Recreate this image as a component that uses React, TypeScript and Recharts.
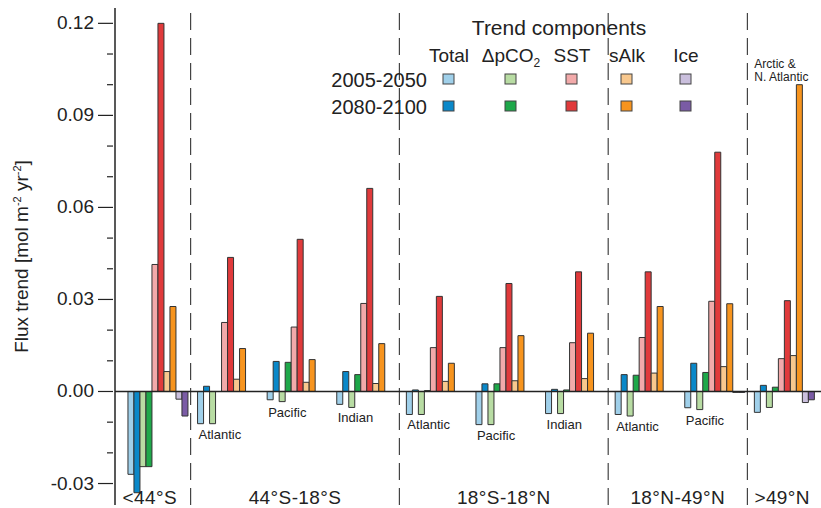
import { BarChart, Bar, XAxis, YAxis, ReferenceLine, LabelList } from 'recharts';

// regions (one category per basin) and their labels
const regions = ['S44', 'Atl1', 'Pac1', 'Ind1', 'Atl2', 'Pac2', 'Ind2', 'Atl3', 'Pac3', 'N49'];
const basinLabels = ['', 'Atlantic', 'Pacific', 'Indian', 'Atlantic', 'Pacific', 'Indian', 'Atlantic', 'Pacific', ''];
const notes = ['', '', '', '', '', '', '', '', '', 'Arctic &\nN. Atlantic'];

// latitude bands: label, first and last region index
const bandLabels = ['<44°S', '44°S-18°S', '18°S-18°N', '18°N-49°N', '>49°N'];
const bandFirst = [0, 1, 4, 7, 9];
const bandLast = [0, 3, 6, 8, 9];

const yTicks = [-0.03, -0.02, -0.01, 0, 0.01, 0.02, 0.03, 0.04, 0.05, 0.06, 0.07, 0.08, 0.09, 0.1, 0.11, 0.12];

// flux trends, mol m-2 yr-2
const total2005 = [-0.027, -0.0105, -0.0027, -0.0042, -0.0075, -0.0108, -0.0072, -0.0075, -0.0053, -0.0068];
const total2080 = [-0.033, 0.0017, 0.0098, 0.0065, 0.0005, 0.0025, 0.0007, 0.0055, 0.0092, 0.002];
const pco2_2005 = [-0.0245, -0.0105, -0.0033, -0.0052, -0.0075, -0.0108, -0.0072, -0.008, -0.0059, -0.0052];
const pco2_2080 = [-0.0245, 0, 0.0095, 0.0055, 0.0003, 0.0025, 0.0005, 0.0053, 0.0062, 0.0014];
const sst2005 = [0.0414, 0.0225, 0.021, 0.0287, 0.0143, 0.0143, 0.0159, 0.0176, 0.0294, 0.0107];
const sst2080 = [0.12, 0.0437, 0.0496, 0.0662, 0.031, 0.0352, 0.039, 0.039, 0.078, 0.0296];
const salk2005 = [0.0065, 0.004, 0.003, 0.0026, 0.0033, 0.0035, 0.0042, 0.006, 0.0081, 0.0117];
const salk2080 = [0.0277, 0.014, 0.0104, 0.0156, 0.0092, 0.0182, 0.019, 0.0277, 0.0286, 0.1];
const ice2005 = [-0.0025, 0, 0, 0, 0, 0, 0, 0, -0.0003, -0.0036];
const ice2080 = [-0.008, 0, 0, 0, 0, 0, 0, 0, -0.0003, -0.0027];

const components = ['Total', 'ΔpCO2', 'SST', 'sAlk', 'Ice'];
const periods = ['2005-2050', '2080-2100'];
const lightColors = ['#a0d0ea', '#b8dca3', '#f2aaaa', '#f8c88e', '#cabfdd'];
const darkColors = ['#0a88c9', '#1ea84a', '#e03a3b', '#f7941e', '#7a5ba5'];
const keys = [
  ['total2005', 'total2080'],
  ['pco2_2005', 'pco2_2080'],
  ['sst2005', 'sst2080'],
  ['salk2005', 'salk2080'],
  ['ice2005', 'ice2080'],
];

const data = regions.map((r, i) => ({
  name: r,
  basin: basinLabels[i],
  note: notes[i],
  total2005: total2005[i],
  total2080: total2080[i],
  pco2_2005: pco2_2005[i],
  pco2_2080: pco2_2080[i],
  sst2005: sst2005[i],
  sst2080: sst2080[i],
  salk2005: salk2005[i],
  salk2080: salk2080[i],
  ice2005: ice2005[i],
  ice2080: ice2080[i],
}));

const FONT = '"Liberation Sans", Arial, sans-serif';
const TEXT = '#222';
const W = 821;
const H = 508;
const Y_AXIS_W = 115;
const PAD_L = 6;
const PAD_R = 4;
const BAND = (W - Y_AXIS_W - PAD_L - PAD_R) / regions.length;

const YTick = ({ x, y, payload }: any) => {
  const v = payload.value;
  const major = Math.round(v * 100) % 3 === 0;
  return (
    <g>
      <line x1={x - (major ? 15 : 6)} x2={x} y1={y} y2={y} stroke="#222" strokeWidth={1.2} />
      {major && (
        <text x={x - 19} y={y} dy={6} textAnchor="end" fontSize={19} fill={TEXT} fontFamily={FONT}>
          {v.toFixed(2)}
        </text>
      )}
    </g>
  );
};

// latitude band name, centred under the band's regions
const BandTick = ({ x, payload }: any) => {
  const idx = regions.indexOf(payload.value);
  const b = bandFirst.indexOf(idx);
  if (b < 0) return null;
  const cx = x + ((bandLast[b] - bandFirst[b]) / 2) * BAND - (b === 0 ? 6 : 0);
  return (
    <text x={cx} y={H - 4} textAnchor="middle" fontSize={19} fill={TEXT} fontFamily={FONT} letterSpacing={0.4}>
      {bandLabels[b]}
    </text>
  );
};

const YLabel = ({ viewBox }: any) => {
  const cx = viewBox.x + 22;
  const cy = viewBox.y + viewBox.height / 2;
  return (
    <text x={cx} y={cy} transform={`rotate(-90 ${cx} ${cy})`} textAnchor="middle" dy={6} fontSize={19} fill={TEXT} fontFamily={FONT}>
      Flux trend [mol m<tspan dy={-7} fontSize={11}>-2</tspan>
      <tspan dy={7}> yr</tspan>
      <tspan dy={-7} fontSize={11}>-2</tspan>
      <tspan dy={7}>]</tspan>
    </text>
  );
};

// basin name under the pCO2 (2005-2050) bar, left-aligned with the group
const BasinLabel = (p: any) => {
  if (!p.value) return null;
  const bottom = Math.max(p.y, p.y + p.height);
  return (
    <text x={p.x - 2 * p.width + 1} y={bottom + 15} fontSize={13} fill={TEXT} fontFamily={FONT}>
      {p.value}
    </text>
  );
};

const NoteLabel = (p: any) => {
  if (!p.value) return null;
  const top = Math.min(p.y, p.y + p.height);
  const lines = String(p.value).split('\n');
  return (
    <text x={p.x - 7 * p.width} y={top - 17} fontSize={12} fill={TEXT} fontFamily={FONT}>
      {lines.map((l, i) => (
        <tspan key={i} x={p.x - 7 * p.width} dy={i === 0 ? 0 : 13.5}>
          {l}
        </tspan>
      ))}
    </text>
  );
};

const legendX = [449, 511, 572, 627, 686];

const LegendOverlay = () => (
  <svg width={W} height={H} style={{ position: 'absolute', left: 0, top: 0, pointerEvents: 'none' }}>
    <text x={559} y={35} textAnchor="middle" fontSize={21} fill={TEXT} fontFamily={FONT}>
      Trend components
    </text>
    {components.map((c, i) => (
      <text key={c} x={legendX[i]} y={62} textAnchor="middle" fontSize={19} fill={TEXT} fontFamily={FONT}>
        {c === 'ΔpCO2' ? (
          <>
            ΔpCO<tspan dy={5} fontSize={12}>2</tspan>
          </>
        ) : (
          c
        )}
      </text>
    ))}
    {periods.map((p, r) => (
      <text key={p} x={427} y={87 + r * 27} textAnchor="end" fontSize={20} fill={TEXT} fontFamily={FONT}>
        {p}
      </text>
    ))}
    {components.map((c, i) =>
      [lightColors[i], darkColors[i]].map((col, r) => (
        <rect key={c + r} x={legendX[i] - 6} y={74 + r * 27} width={11} height={10} fill={col} stroke="#444" strokeWidth={1} />
      ))
    )}
  </svg>
);

export default function App() {
  return (
    <div style={{ position: 'absolute', left: 0, top: 0, width: W, height: H, fontFamily: FONT }}>
      <BarChart
        width={W}
        height={H}
        data={data}
        margin={{ top: 8, right: 0, bottom: 0, left: 0 }}
        barGap={0}
        barCategoryGap="10%"
      >
        <XAxis
          dataKey="name"
          padding={{ left: PAD_L, right: PAD_R }}
          axisLine={false}
          tickLine={false}
          tickSize={0}
          height={3}
          interval={0}
          tick={<BandTick />}
        />
        <YAxis
          type="number"
          domain={[-0.037, 0.125]}
          ticks={yTicks}
          tick={<YTick />}
          tickLine={false}
          tickSize={0}
          width={Y_AXIS_W}
          axisLine={{ stroke: '#222', strokeWidth: 1.5 }}
          interval={0}
          allowDataOverflow
          label={{ content: <YLabel /> }}
        />
        {bandFirst.slice(1).map((i) => (
          <ReferenceLine key={i} x={regions[i]} position="start" stroke="#444" strokeWidth={1.2} strokeDasharray="17 8" />
        ))}
        {keys.map((pair, i) =>
          pair.map((k, r) => (
            <Bar
              key={k}
              dataKey={k}
              fill={r === 0 ? lightColors[i] : darkColors[i]}
              stroke="#333"
              strokeWidth={1}
              isAnimationActive={false}
            >
              {k === 'pco2_2005' && <LabelList dataKey="basin" content={<BasinLabel />} />}
              {k === 'salk2080' && <LabelList dataKey="note" content={<NoteLabel />} />}
            </Bar>
          ))
        )}
        <ReferenceLine y={0} stroke="#222" strokeWidth={1.5} />
      </BarChart>
      <LegendOverlay />
    </div>
  );
}
